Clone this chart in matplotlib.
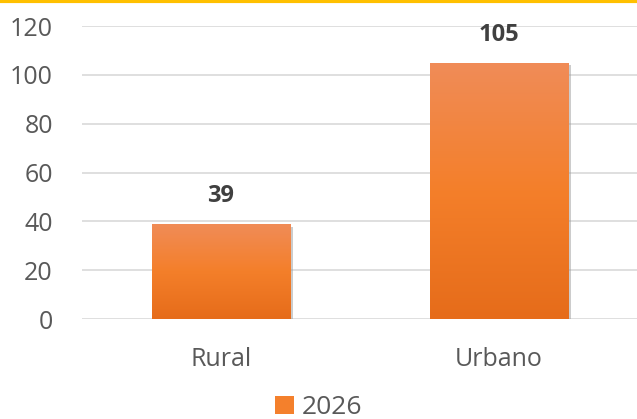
import matplotlib
matplotlib.use("Agg")
import matplotlib.pyplot as plt
import matplotlib.patheffects as pe
from matplotlib.patches import Rectangle
from matplotlib.colors import LinearSegmentedColormap
import numpy as np

# datos
categorias = ["Rural", "Urbano"]
valores = [39, 105]
serie = "2026"
yticks = [0, 20, 40, 60, 80, 100, 120]

plt.rcParams["font.family"] = ["Open Sans", "DejaVu Sans"]

fig = plt.figure(figsize=(6.37, 4.19), dpi=100)
ax = fig.add_axes([82 / 637, 1 - 319 / 419, 556 / 637, 293 / 419])

x = np.arange(len(categorias))
bars = ax.bar(x, valores, width=0.5, color="#F4802C", zorder=2,
              path_effects=[pe.SimplePatchShadow(offset=(2, -2), shadow_rgbFace="#9a9a9a", alpha=0.5),
                            pe.Normal()])

# degradado de las barras
cmap = LinearSegmentedColormap.from_list("grad", ["#E66C1A", "#F47F2A", "#F08C58"])
grad = np.linspace(0, 1, 256).reshape(-1, 1)
for b in bars:
    bx, by = b.get_x(), b.get_y()
    w, h = b.get_width(), b.get_height()
    im = ax.imshow(grad, cmap=cmap, origin="lower", aspect="auto",
                   extent=[bx, bx + w, by, by + h], zorder=3)
    im.set_clip_path(b)

for b, v in zip(bars, valores):
    ax.text(b.get_x() + b.get_width() / 2, v + 11.5, str(v), ha="center", va="center",
            fontsize=17, fontweight="bold", color="#404040")

ax.set_xlim(-0.5, 1.5)
ax.set_ylim(0, 120)
ax.set_yticks(yticks)
ax.set_xticks(x)
ax.set_xticklabels(categorias)
ax.grid(axis="y", color="#D9D9D9", linewidth=1.2, zorder=0)
ax.set_axisbelow(True)
for s in ax.spines.values():
    s.set_visible(False)
ax.tick_params(axis="both", length=0, labelsize=18, labelcolor="#595959")
ax.tick_params(axis="y", pad=21)
ax.tick_params(axis="x", pad=20)
for lbl in ax.get_yticklabels():
    lbl.set_horizontalalignment("right")

# leyenda
leg_patch = Rectangle((0, 0), 1, 1, facecolor="#F4802C")
fig.legend([leg_patch], [serie], loc="lower center", bbox_to_anchor=(0.5, -0.06),
           frameon=False, fontsize=19, handlelength=0.7, handleheight=0.7,
           handletextpad=0.3, labelcolor="#595959")

# linea superior
fig.add_artist(plt.Line2D([0, 1], [0.997, 0.997], color="#FFC000", linewidth=3,
                          transform=fig.transFigure))

fig.savefig("out.png", dpi=100)
